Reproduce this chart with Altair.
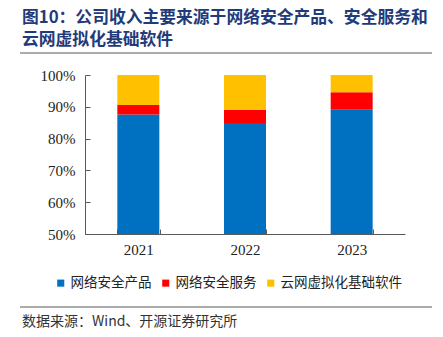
import altair as alt
import pandas as pd

years = ["2021", "2022", "2023"]
series = ["网络安全产品", "网络安全服务", "云网虚拟化基础软件"]
product = [87.6, 84.9, 89.1]
service = [3.0, 4.1, 5.5]
cloud = [9.4, 11.0, 5.4]
colors = ["#0070C0", "#FF0000", "#FFC000"]

title_lines = ["图10：公司收入主要来源于网络安全产品、安全服务和", "云网虚拟化基础软件"]
source_text = "数据来源：Wind、开源证券研究所"

rows = []
for i, y in enumerate(years):
    for k, (s, vals) in enumerate(zip(series, [product, service, cloud])):
        rows.append({"year": y, "series": s, "value": vals[i] / 100.0, "order": k})
df = pd.DataFrame(rows)

W, H = 320, 159
LEFT, TOP = 85, 75

bars = alt.Chart(df).mark_bar(clip=True, width=42).encode(
    x=alt.X("year:N", sort=years, title=None,
            scale=alt.Scale(paddingInner=0.6, paddingOuter=0.3),
            axis=alt.Axis(labelAngle=0, labelFont="Liberation Serif", labelFontSize=15,
                          labelColor="#222222", labelPadding=13, tickBand="extent",
                          tickSize={"expr": "-5"}, tickColor="#595959",
                          domainColor="#595959")),
    y=alt.Y("value:Q", stack="zero", title=None,
            scale=alt.Scale(domain=[0.5, 1.0], nice=False, zero=False),
            axis=alt.Axis(format=".0%", values=[0.5, 0.6, 0.7, 0.8, 0.9, 1.0],
                          labelFont="Liberation Serif", labelFontSize=15,
                          labelColor="#222222", labelPadding=15, grid=False,
                          tickSize={"expr": "-5"}, tickColor="#595959",
                          domainColor="#595959")),
    color=alt.Color("series:N", sort=series,
                    scale=alt.Scale(domain=series, range=colors),
                    legend=alt.Legend(title=None, orient="none", direction="horizontal",
                                      legendX=-31, legendY=201,
                                      symbolType="square", symbolSize=50,
                                      symbolStrokeWidth=0, symbolOffset=0,
                                      labelFont="Noto Sans CJK SC", labelFontSize=13.5,
                                      labelColor="#222222", columnPadding=7,
                                      labelOffset=3)),
    order=alt.Order("order:Q"),
)

one = pd.DataFrame({"a": [0]})

title1 = alt.Chart(one).mark_text(align="left", baseline="middle", font="Noto Sans CJK SC",
                                  fontSize=16.8, fontWeight="bold", color="#1F3B7A").encode(
    x=alt.value(22 - LEFT), y=alt.value(18 - TOP), text=alt.value(title_lines[0]))
title2 = alt.Chart(one).mark_text(align="left", baseline="middle", font="Noto Sans CJK SC",
                                  fontSize=16.8, fontWeight="bold", color="#1F3B7A").encode(
    x=alt.value(22 - LEFT), y=alt.value(40 - TOP), text=alt.value(title_lines[1]))
line1 = alt.Chart(one).mark_rule(color="#595959", strokeWidth=1).encode(
    x=alt.value(20 - LEFT), x2=alt.value(432 - LEFT), y=alt.value(53 - TOP))
line2 = alt.Chart(one).mark_rule(color="#595959", strokeWidth=1).encode(
    x=alt.value(20 - LEFT), x2=alt.value(432 - LEFT), y=alt.value(307 - TOP))
src = alt.Chart(one).mark_text(align="left", baseline="middle", font="Noto Sans CJK SC",
                               fontSize=14, color="#333333").encode(
    x=alt.value(22 - LEFT), y=alt.value(322 - TOP), text=alt.value(source_text))

chart = alt.layer(bars, title1, title2, line1, line2, src).properties(
    width=W, height=H,
    autosize=alt.AutoSizeParams(type="none"),
    padding={"left": LEFT, "top": TOP, "right": 443 - LEFT - W, "bottom": 337 - TOP - H},
).configure_view(stroke=None).configure_axis(domainWidth=1)

chart.save("out.html", embed_options={"renderer": "svg", "actions": False})
